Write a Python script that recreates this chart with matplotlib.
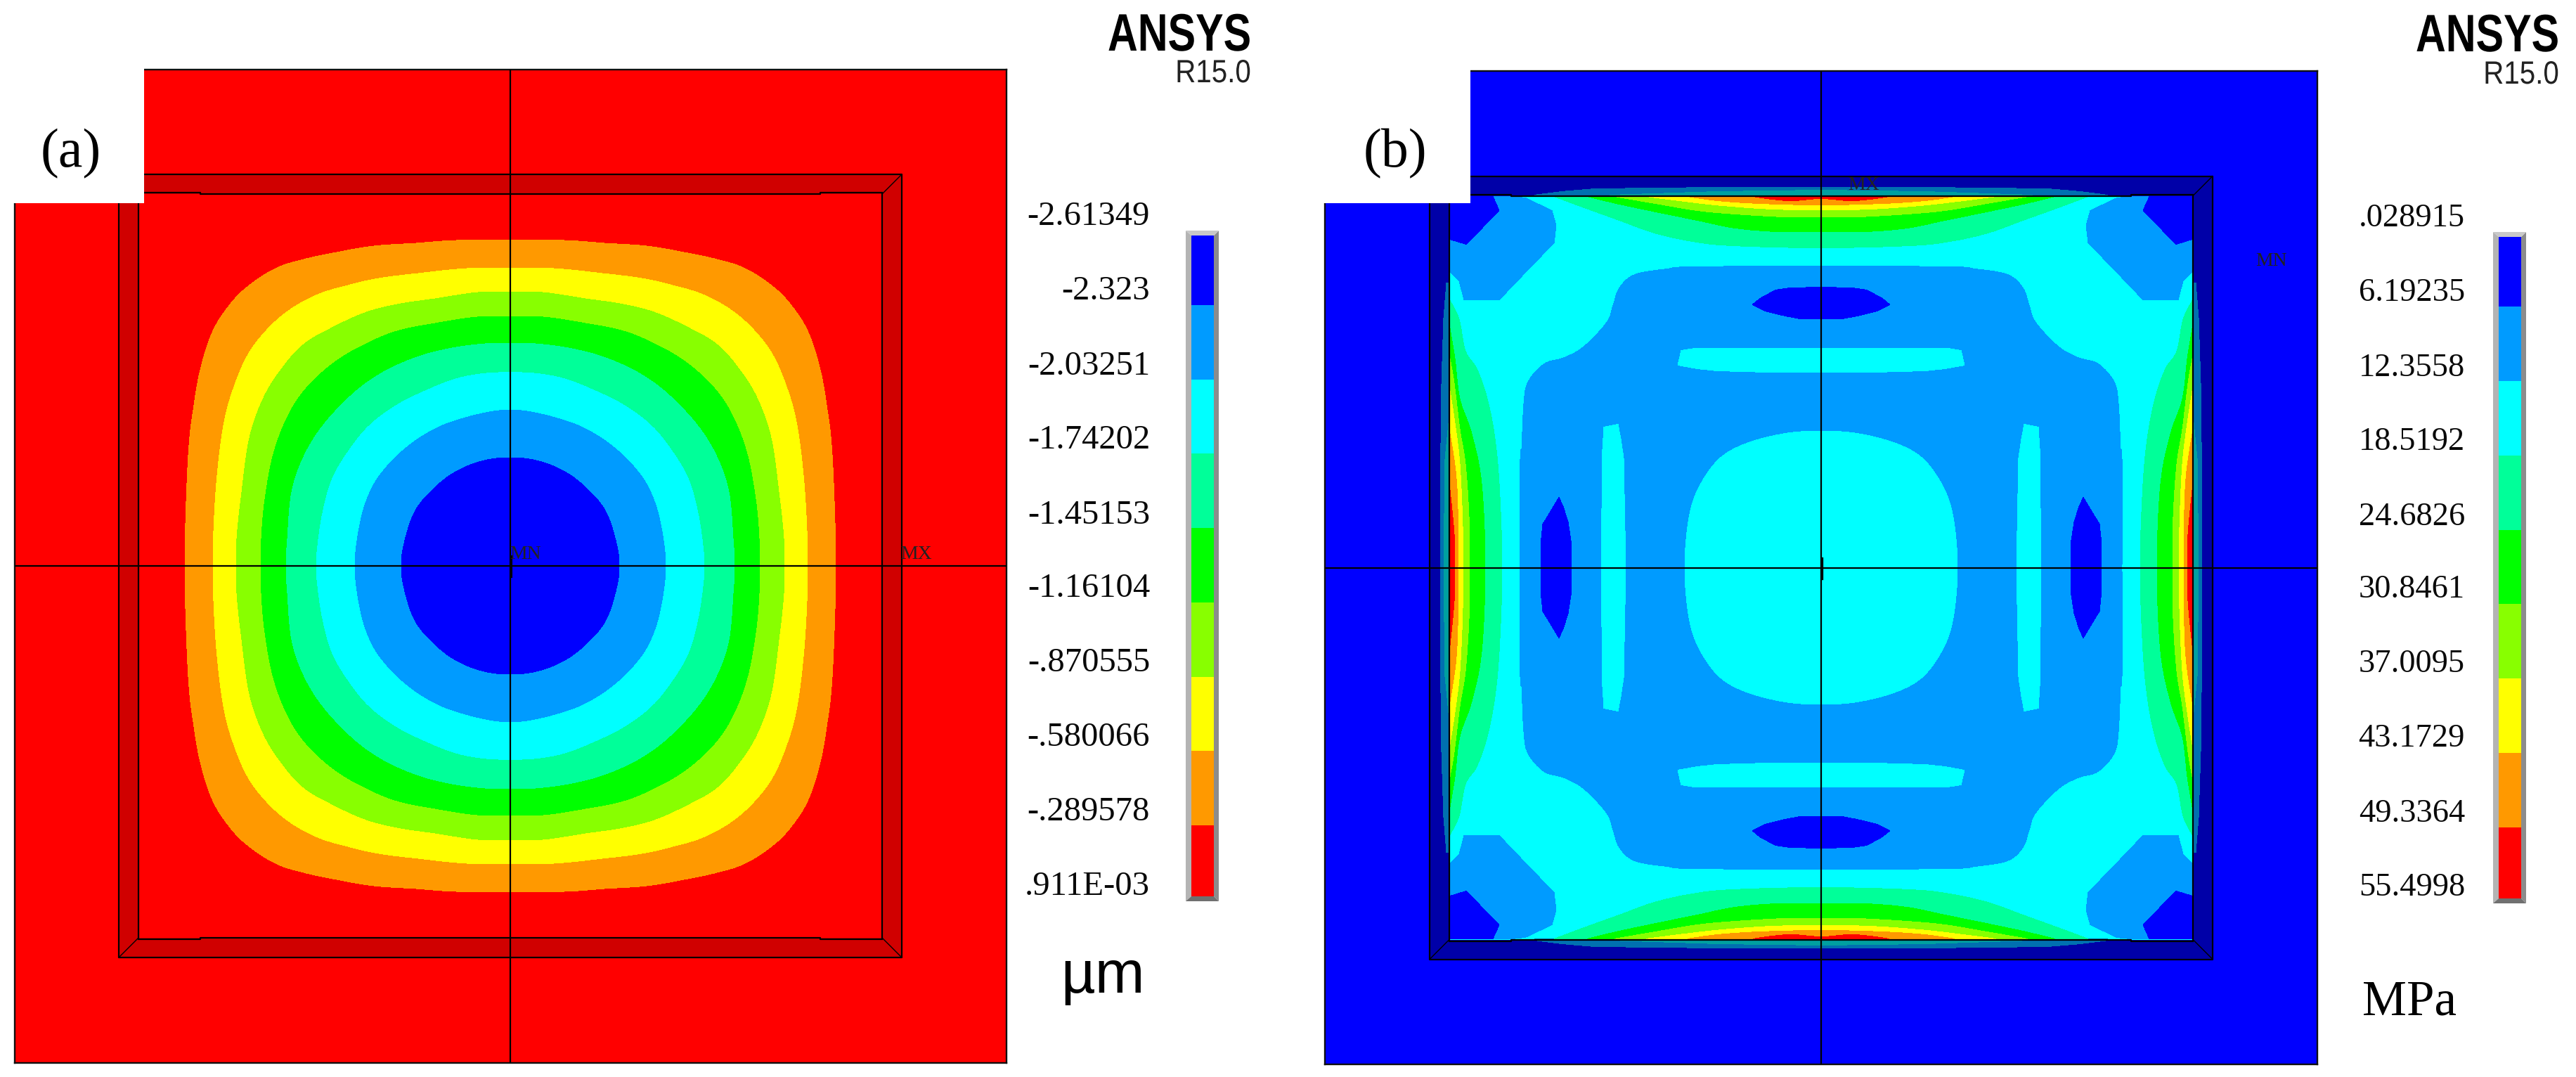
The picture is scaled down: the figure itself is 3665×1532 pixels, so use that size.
import matplotlib
matplotlib.use("Agg")
import matplotlib.pyplot as plt
from matplotlib.patches import Rectangle, Polygon
from matplotlib.patheffects import AbstractPathEffect
from matplotlib.transforms import Affine2D

W, H = 3665, 1532
SERIF = ["Liberation Serif", "DejaVu Serif"]
SANS = ["Liberation Sans", "DejaVu Sans"]

BLUE, SKY, CYAN, SPRING, GREEN, LIME, YELLOW, ORANGE, RED = (
    "#0000FF", "#009BFF", "#00FFFF", "#00FF99", "#00FF00",
    "#88FF00", "#FFFF00", "#FF9900", "#FF0000")
BAND_COLORS = [BLUE, SKY, CYAN, SPRING, GREEN, LIME, YELLOW, ORANGE, RED]

# colour scale values
levels_a = [-2.61349, -2.323, -2.03251, -1.74202, -1.45153, -1.16104,
            -0.870555, -0.580066, -0.289578, 0.000911]
labels_a = ["-2.61349", "-2.323", "-2.03251", "-1.74202", "-1.45153", "-1.16104",
            "-.870555", "-.580066", "-.289578", ".911E-03"]
levels_b = [0.028915, 6.19235, 12.3558, 18.5192, 24.6826, 30.8461,
            37.0095, 43.1729, 49.3364, 55.4998]
labels_b = [".028915", "6.19235", "12.3558", "18.5192", "24.6826", "30.8461",
            "37.0095", "43.1729", "49.3364", "55.4998"]

# (a) displacement contours: first-quadrant outlines, distance from the plate centre
orange_a = [(0,463),(77,463),(134,459),(194,455),(247,446),(294,436),(334,423),(374,397),(401,369),(424,332),(441,279),(451,222),(457,172),(461,92),(463,0)]
yellow_a = [(0,423),(62,423),(131,416),(187,409),(231,399),(274,386),(314,364),(347,335),(374,299),(394,252),(407,205),(416,139),(421,72),(423,0)]
lime_a = [(0,389),(46,389),(107,380),(161,372),(207,360),(257,337),(294,315),(324,282),(351,239),(371,182),(382,105),(389,39),(389,0)]
green_a = [(0,354),(47,354),(107,345),(161,334),(207,315),(251,289),(291,252),(317,212),(337,159),(349,95),(354,39),(354,0)]
spring_a = [(0,317),(47,315),(97,307),(141,294),(187,272),(227,242),(267,199),(294,155),(311,105),(317,39),(319,0)]
cyan_a = [(0,275),(34,274),(74,267),(114,252),(161,229),(201,199),(231,162),(254,122),(267,75),(274,29),(276,0)]
sky_a = [(0,221),(24,220),(67,210),(107,195),(147,169),(181,135),(201,102),(214,59),(221,0)]
blue_a = [(0,154),(41,149),(81,132),(114,105),(137,75),(151,32),(155,0)]

# (b) stress contours: one-quadrant regions, distance from the plate centre
sky_main = [(0,429),(183,428),(219,425),(265,417),(287,398),(296,373),(305,349),(337,315),(365,299),(394,290),(417,264),(423,233),(426,169),(428,155),(428,0)]
cyan_centre = [(0,194),(44,192),(94,181),(133,164),(158,140),(180,101),(190,58),(194,0)]
cyan_hstrip = [(0,312),(180,312),(199,309),(204,288),(176,283),(148,280),(76,278),(0,278)]
cyan_vstrip = [(278,0),(280,105),(281,156),(285,183),(289,204),(309,200),(311,169),(313,0)]
blue_hlens = [(0,399),(44,398),(65,395),(87,383),(98,374),(80,365),(51,358),(30,354),(0,354)]
blue_vlens = [(355,0),(356,39),(360,65),(367,87),(373,100),(385,80),(396,62),(399,33),(399,0)]
sky_corner = [(440,528),(421,526),(383,508),(377,487),(380,462),(415,426),(458,381),(508,381),(515,408),(528,421),(528,528)]
blue_corner = [(528,528),(467,528),(458,508),(505,460),(528,467)]
top_spring = [(380,528),(337,512),(287,494),(237,476),(183,464),(126,458),(0,455)]
top_green = [(333,528),(287,517),(230,505),(176,494),(122,483),(62,478),(0,478)]
top_lime = [(294,528),(230,517),(176,508),(122,503),(51,499),(0,499)]
top_yellow = [(249,528),(194,521),(140,515),(69,510),(0,509)]
top_orange = [(190,528),(147,522),(87,518),(0,516)]
top_red = [(97,528),(69,524),(40,522),(0,525)]
side_spring = [(528,380),(515,353),(506,308),(490,283),(476,244),(465,190),(458,119),(454,0)]
side_green = [(528,340),(521,297),(514,240),(497,190),(483,119),(478,0)]
side_lime = [(528,297),(522,262),(514,197),(506,147),(501,72),(500,0)]
side_yellow = [(528,251),(521,205),(514,147),(510,58),(510,0)]
side_orange = [(528,190),(520,137),(517,83),(517,0)]
side_red = [(528,110),(522,47),(522,0)]
side_teal = [(533,405),(537,355),(540,262),(542,94),(542,0),(528,0),(528,405)]
side_teal2 = [(528,226),(535,155),(537,0),(528,0)]
top_teal = [(408,530),(369,535),(322,539),(148,541),(0,541),(0,528),(408,528)]
top_teal2 = [(301,530),(147,535),(0,537),(0,528),(301,528)]

fig = plt.figure(figsize=(W / 100, H / 100), dpi=100, facecolor="white")


class SqueezeX(AbstractPathEffect):
    """Draw text narrower about a pixel column, keeping it as text."""

    def __init__(self, factor, anchor):
        super().__init__()
        self.factor, self.anchor = factor, anchor

    def draw_path(self, renderer, gc, tpath, affine, rgbFace=None):
        squeeze = Affine2D().translate(-self.anchor, 0).scale(self.factor, 1).translate(self.anchor, 0)
        renderer.draw_path(gc, tpath, affine + squeeze, rgbFace)


def px_axes(x0, y0, x1, y1, **kw):
    return fig.add_axes([x0 / W, 1 - y1 / H, (x1 - x0) / W, (y1 - y0) / H], **kw)


def panel(x0, y0, x1, y1, cx, cy, bg, patch_x, patch_y):
    ax = px_axes(x0, y0, x1, y1, facecolor=bg)
    ax.set_xlim(x0 - cx, x1 - cx)
    ax.set_ylim(cy - y1, cy - y0)
    ax.set_xticks([]); ax.set_yticks([])
    for s in ax.spines.values():
        s.set_linewidth(1.7); s.set_color("#101010")
    ax.axhline(0, color="black", lw=1.6, zorder=4)
    ax.axvline(0, color="black", lw=1.6, zorder=4)
    ax.add_patch(Rectangle((x0 - cx - 12, cy - patch_y), patch_x - x0 + 12, patch_y,
                           fc="white", ec="none", clip_on=False, zorder=6))
    return ax


def frame(ax, dark, plate, inner=529, outer=557):
    ax.fill([-outer, outer, outer, -outer], [-outer, -outer, outer, outer], color=dark, lw=0, zorder=1)
    ax.fill([-inner, inner, inner, -inner], [-inner, -inner, inner, inner], color=plate, lw=0, zorder=1)


def frame_lines(ax, inner=529, outer=557, step=441, inset=2):
    kw = dict(color="black", lw=1.6, zorder=4, solid_capstyle="projecting")
    ax.plot([-outer, outer, outer, -outer, -outer], [outer, outer, -outer, -outer, outer], **kw)
    ax.plot([-inner, -inner], [-inner, inner], **kw)
    ax.plot([inner, inner], [-inner, inner], **kw)
    ax.plot([-inner, -step, -step, step, step, inner],
            [inner + inset, inner + inset, inner, inner, inner + inset, inner + inset], **kw)
    ax.plot([-inner, -step, -step, step, step, inner],
            [-inner - inset, -inner - inset, -inner, -inner, -inner - inset, -inner - inset], **kw)
    for sx in (-1, 1):
        for sy in (-1, 1):
            ax.plot([sx * inner, sx * outer], [sy * inner, sy * outer], color="black", lw=1.0, zorder=4)


def spline(q, head=None, tail=None, n=8):
    """Catmull-Rom drawing path through the read points."""
    pts = [head or q[0]] + list(q) + [tail or q[-1]]
    out = []
    for i in range(1, len(pts) - 2):
        p0, p1, p2, p3 = pts[i - 1], pts[i], pts[i + 1], pts[i + 2]
        for k in range(n):
            t = k / n
            out.append(tuple(
                0.5 * (2 * p1[d] + (p2[d] - p0[d]) * t
                       + (2 * p0[d] - 5 * p1[d] + 4 * p2[d] - p3[d]) * t * t
                       + (3 * p1[d] - p0[d] - 3 * p2[d] + p3[d]) * t ** 3)
                for d in (0, 1)))
    out.append(tuple(q[-1]))
    return out


def closed_outline(q):
    s = spline(q, head=(-q[1][0], q[1][1]), tail=(q[-2][0], -q[-2][1]))
    xs = [p[0] for p in s] + [p[0] for p in s[::-1]] + [-p[0] for p in s] + [-p[0] for p in s[::-1]]
    ys = [p[1] for p in s] + [-p[1] for p in s[::-1]] + [-p[1] for p in s] + [p[1] for p in s[::-1]]
    return xs, ys


def quad_fill(ax, q, color, z=2):
    for sx in (-1, 1):
        for sy in (-1, 1):
            ax.fill([sx * p[0] for p in q], [sy * p[1] for p in q], color=color,
                    lw=0, antialiased=False, zorder=z)


def colorbar(x0, y0, x1, y1, levels):
    ax = px_axes(x0, y0, x1, y1)
    ax.set_axis_off()
    step = levels[1] - levels[0]
    ax.set_ylim(levels[-1] + step * -0.044, levels[0] + step * 0.063)
    ax.set_xlim(0, 1)
    for lo, hi, c in zip(levels[:-1], levels[1:], BAND_COLORS):
        ax.bar(0.5, hi - lo, bottom=lo, width=1, color=c, lw=0)
    return ax


# ---------- panel (a)
ax_a = panel(20.7, 99, 1432, 1512, 726, 805, RED, 205, 289)
frame(ax_a, "#D00000", RED)
for q, c in [(orange_a, ORANGE), (yellow_a, YELLOW), (lime_a, LIME), (green_a, GREEN),
             (spring_a, SPRING), (cyan_a, CYAN), (sky_a, SKY), (blue_a, BLUE)]:
    xs, ys = closed_outline(q)
    ax_a.fill(xs, ys, color=c, lw=0, antialiased=False, zorder=2)
frame_lines(ax_a)
ax_a.plot([1, 1], [-15, 14], color="black", lw=2.2, zorder=4)
ax_a.text(-1, 10, "MN", family=SERIF, fontsize=20, color="#222222", zorder=5, va="baseline")
ax_a.text(555, 10, "MX", family=SERIF, fontsize=20, color="#222222", zorder=5, va="baseline")

# ---------- panel (b)
ax_b = panel(1885, 101, 3297, 1514, 2591, 807.5, BLUE, 2092, 289)
frame(ax_b, "#0000A8", CYAN)
for q, c in [(side_teal, "#0070B0"), (top_teal, "#0070B0"), (side_teal2, "#00A0A0"), (top_teal2, "#00A0A0")]:
    quad_fill(ax_b, q, c)
quad_fill(ax_b, [(0, 0)] + spline(sky_main, head=(-183, 428), tail=(428, -155)), SKY, z=3)
quad_fill(ax_b, [(0, 0)] + spline(cyan_centre, head=(-44, 192), tail=(190, -58)), CYAN, z=3)
for q, c in [(cyan_hstrip, CYAN), (cyan_vstrip, CYAN), (blue_hlens, BLUE), (blue_vlens, BLUE),
             (sky_corner, SKY), (blue_corner, BLUE)]:
    quad_fill(ax_b, q, c, z=3)
for top, side, c in [(top_spring, side_spring, SPRING), (top_green, side_green, GREEN),
                     (top_lime, side_lime, LIME), (top_yellow, side_yellow, YELLOW),
                     (top_orange, side_orange, ORANGE), (top_red, side_red, RED)]:
    quad_fill(ax_b, spline(top, tail=(top[-2][0] * -1, top[-2][1])) + [(0, 528)], c, z=3)
    quad_fill(ax_b, spline(side, tail=(side[-2][0], -side[-2][1])) + [(528, 0)], c, z=3)
frame_lines(ax_b)
ax_b.plot([1, 1], [-15, 14], color="black", lw=2.4, zorder=4)
ax_b.text(38, 538, "MX", family=SERIF, fontsize=20, color="#222222", zorder=5, va="baseline")
ax_b.text(618, 430, "MN", family=SERIF, fontsize=20, color="#222222", zorder=5, va="baseline")

# ---------- colour scales
colorbar(1695, 335, 1727, 1275, levels_a)
colorbar(3555, 337, 3587, 1278, levels_b)

# ---------- overlay for bezels and text
ov = fig.add_axes([0, 0, 1, 1], facecolor="none", zorder=10)
ov.set_xlim(0, W); ov.set_ylim(H, 0); ov.set_axis_off()


def bezel(ox0, oy0, ox1, oy1, ix0, iy0, ix1, iy1):
    ov.add_patch(Polygon([(ox0, oy0), (ix0, iy0), (ix0, iy1), (ox0, oy1)], fc="#B4B4B4", ec="none"))
    ov.add_patch(Polygon([(ox1, oy0), (ix1, iy0), (ix1, iy1), (ox1, oy1)], fc="#8C8C8C", ec="none"))
    ov.add_patch(Polygon([(ox0, oy0), (ox1, oy0), (ix1, iy0), (ix0, iy0)], fc="#C8C8C8", ec="none"))
    ov.add_patch(Polygon([(ox0, oy1), (ox1, oy1), (ix1, iy1), (ix0, iy1)], fc="#707070", ec="none"))


bezel(1687, 328, 1734, 1282, 1695, 335, 1727, 1275)
bezel(3547, 330, 3594, 1285, 3555, 337, 3587, 1278)

label_y_a = [303, 409, 516, 621, 728, 832, 938, 1044, 1150, 1256]
label_y_b = [306, 412, 519, 624, 731, 834, 940, 1046, 1153, 1258]
for t, y in zip(labels_a, label_y_a):
    ov.text(1636, y, t, family=SERIF, fontsize=35, ha="right", va="center_baseline", color="#0A0A0A")
for t, y in zip(labels_b, label_y_b):
    ov.text(3507, y, t, family=SERIF, fontsize=33.5, ha="right", va="center_baseline", color="#0A0A0A")

for right, y1, y2 in [(1780, 72, 117), (3641, 73, 119)]:
    t = ov.text(right, y1, "ANSYS", family=SANS, fontweight="bold", fontsize=54,
                ha="right", va="baseline", color="black")
    t.set_path_effects([SqueezeX(0.79, right)])
    t = ov.text(right, y2, "R15.0", family=SANS, fontsize=33,
                ha="right", va="baseline", color="#222222")
    t.set_path_effects([SqueezeX(0.88, right)])

ov.text(101, 237, "(a)", family=SERIF, fontsize=56, ha="center", va="baseline", color="black")
ov.text(1985, 237, "(b)", family=SERIF, fontsize=56, ha="center", va="baseline", color="black")
ov.text(1509, 1412, "\u00b5m", family=SANS, fontsize=61, ha="left", va="baseline", color="black")
ov.text(3361, 1443, "MPa", family=SERIF, fontsize=51, ha="left", va="baseline", color="black")

fig.savefig("out.png", dpi=100, facecolor="white")
